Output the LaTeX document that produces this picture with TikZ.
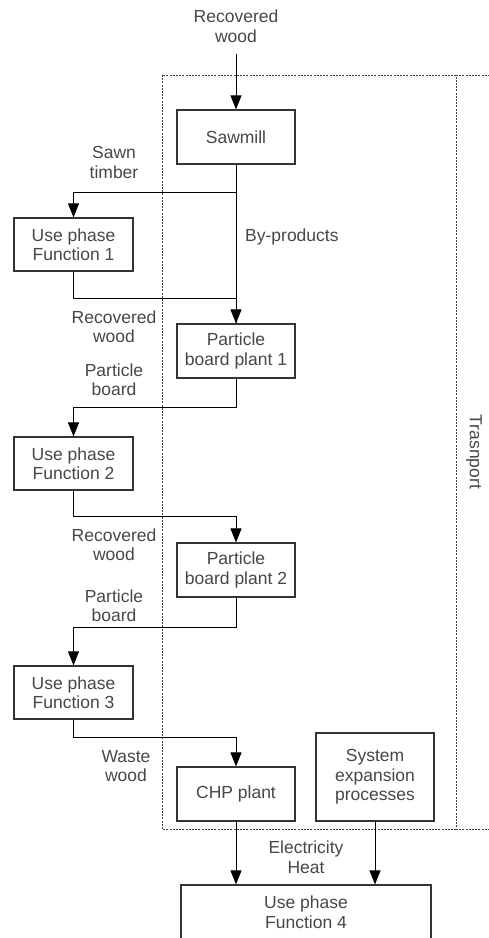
\documentclass[tikz,border=0pt]{standalone}
\usepackage{fontspec}
\setmainfont{Liberation Sans}
\usetikzlibrary{arrows.meta}
\begin{document}
\begin{tikzpicture}[x=1pt,y=-1pt,
  every node/.style={font=\fontsize{17.5}{19.5}\selectfont, text=black!72, align=center, inner sep=0},
  box/.style={draw=black!80, line width=1.2pt, fill=white, minimum width=118pt, minimum height=54pt},
  lbl/.style={text=black!72},
  arr/.style={draw=black, line width=1pt, -{Triangle[width=11pt,length=14pt]}},
  link/.style={draw=black, line width=1pt},
  frame/.style={draw=black!75, line width=0.9pt, dash pattern=on 2pt off 1.2pt}]
\useasboundingbox (0,0) rectangle (489,938);

% system boundaries
\draw[frame] (162,75) rectangle (456,829);
\draw[frame] (456,75) -- (489,75);
\draw[frame] (456,829) -- (489,829);
\node[rotate=-90] (trans) at (474,452) {Trasnport};

% process boxes
\node[box] (saw) at (236,137) {Sawmill};
\node[box, minimum width=119pt, minimum height=53pt] (f1) at (73.5,244.5) {Use phase\\Function 1};
\node[box] (pb1) at (236,351) {Particle\\board plant 1};
\node[box, minimum width=119pt, minimum height=53pt] (f2) at (73.5,463.5) {Use phase\\Function 2};
\node[box] (pb2) at (236,570) {Particle\\board plant 2};
\node[box, minimum width=119pt, minimum height=53pt] (f3) at (73.5,692.5) {Use phase\\Function 3};
\node[box] (chp) at (236,794) {CHP plant};
\node[box, minimum height=88pt] (sys) at (375,777) {System\\expansion\\processes};
\node[box, minimum width=250pt] (f4) at (306,912) {Use phase\\Function 4};

% flow labels
\node[lbl] (lin) at (236,26) {Recovered\\wood};
\coordinate (inflow) at (236,54);
\node[lbl] (lsawn) at (114,162.5) {Sawn\\timber};
\node[lbl, anchor=west] (lby) at (245,237) {By-products};
\node[lbl] (lrw1) at (114,326.5) {Recovered\\wood};
\node[lbl] (lpb1) at (114,379.5) {Particle\\board};
\node[lbl] (lrw2) at (114,544.5) {Recovered\\wood};
\node[lbl] (lpb2) at (114,605.5) {Particle\\board};
\node[lbl] (lww) at (126,766) {Waste\\wood};
\node[lbl] (lel) at (306,857) {Electricity\\Heat};

% flows
\draw[arr] (inflow) -- (saw.north);
\draw[arr] (saw.south) -- ++(0,28) -| (f1.north);
\draw[arr] (saw.south) -- (pb1.north);
\draw[link] (f1.south) -- ++(0,27) -| (pb1.north);
\draw[arr] (pb1.south) -- ++(0,29) -| (f2.north);
\draw[arr] (f2.south) -- ++(0,26) -| (pb2.north);
\draw[arr] (pb2.south) -- ++(0,30) -| (f3.north);
\draw[arr] (f3.south) -- ++(0,18) -| (chp.north);
\draw[arr] (chp.south) -- (chp.south |- f4.north);
\draw[arr] (sys.south) -- (sys.south |- f4.north);
\end{tikzpicture}
\end{document}
